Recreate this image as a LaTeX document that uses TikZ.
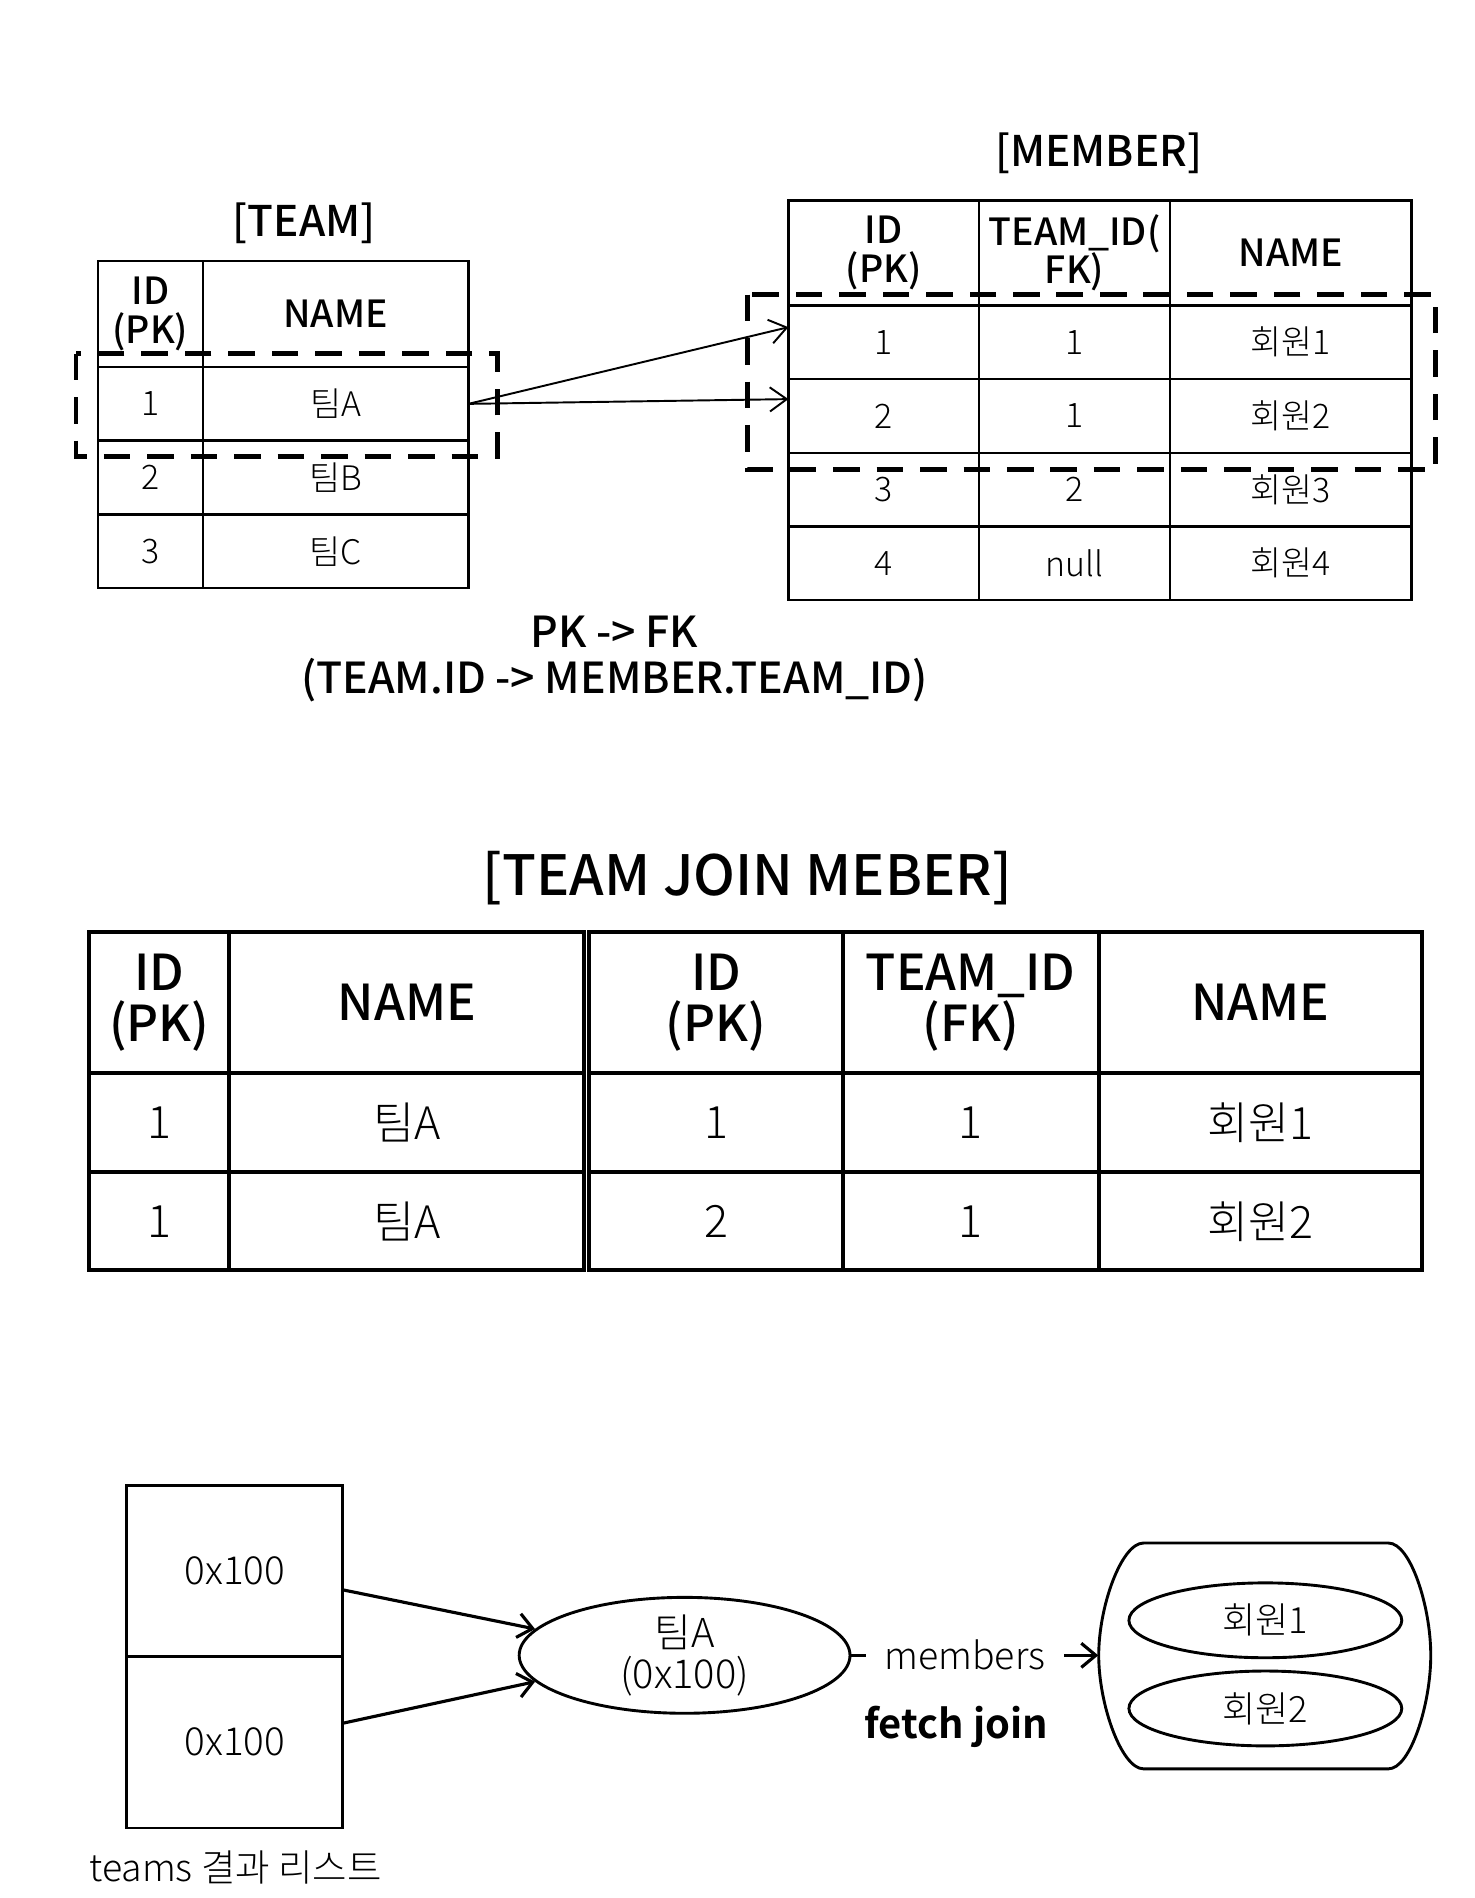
\documentclass[tikz,border=0pt]{standalone}
\usepackage{fontspec}
\setmainfont{Noto Sans CJK KR}[UprightFont=* Light, BoldFont=* Bold]
\newfontfamily\medfont{Noto Sans CJK KR}[UprightFont=* Medium]
\usetikzlibrary{positioning,shapes.geometric,arrows.meta}
\tikzstyle{cell} = [draw, line width=1pt, inner sep=0pt, outer sep=0pt, align=center, font=\fontsize{14}{16}\selectfont]
\tikzstyle{hcell} = [cell, font=\medfont\fontsize{15.5}{16}\selectfont]
\tikzstyle{jcell} = [draw, line width=1.6pt, inner sep=0pt, outer sep=0pt, align=center, font=\fontsize{18.5}{21}\selectfont]
\tikzstyle{jhcell} = [jcell, font=\medfont\fontsize{20.5}{21}\selectfont]
\tikzstyle{tabtitle} = [font=\medfont\fontsize{17.5}{20}\selectfont]
\tikzstyle{hilite} = [line width=2pt, dash pattern=on 11pt off 7pt]
\tikzstyle{fkarrow} = [-{Straight Barb[length=7pt,width=10pt]}, line width=0.8pt]
\tikzstyle{objarrow} = [-{Straight Barb[length=6pt,width=10pt]}, line width=1.3pt]
\tikzstyle{obj} = [draw, ellipse, line width=1.2pt, inner sep=0pt, align=center]

\begin{document}
\begin{tikzpicture}[x=0.5pt, y=-0.5pt]
\useasboundingbox (0,0) rectangle (1221,1572);

\node[tabtitle] (teamtitle) at (252,185) {[TEAM]};
\node[hcell, minimum width=43.5pt, minimum height=44pt] (t0i) at (124.5,260) {ID\\(PK)};
\node[hcell, minimum width=110pt, minimum height=44pt, right=0pt of t0i] (t0n) {NAME};
\node[cell, minimum width=43.5pt, minimum height=30.5pt, below=0pt of t0i] (t1i) {1};
\node[cell, minimum width=110pt, minimum height=30.5pt, right=0pt of t1i] (t1n) {팀A};
\node[cell, minimum width=43.5pt, minimum height=30.5pt, below=0pt of t1i] (t2i) {2};
\node[cell, minimum width=110pt, minimum height=30.5pt, right=0pt of t2i] (t2n) {팀B};
\node[cell, minimum width=43.5pt, minimum height=30.5pt, below=0pt of t2i] (t3i) {3};
\node[cell, minimum width=110pt, minimum height=30.5pt, right=0pt of t3i] (t3n) {팀C};

\node[tabtitle] (membertitle) at (910,127) {[MEMBER]};
\node[hcell, minimum width=79pt, minimum height=43.5pt] (m0i) at (732,209.5) {ID\\(PK)};
\node[hcell, minimum width=79pt, minimum height=43.5pt, right=0pt of m0i] (m0t) {TEAM\_ID(\\FK)};
\node[hcell, minimum width=100pt, minimum height=43.5pt, right=0pt of m0t] (m0n) {NAME};
\node[cell, minimum width=79pt, minimum height=30.5pt, below=0pt of m0i] (m1i) {1};
\node[cell, minimum width=79pt, minimum height=30.5pt, right=0pt of m1i] (m1t) {1};
\node[cell, minimum width=100pt, minimum height=30.5pt, right=0pt of m1t] (m1n) {회원1};
\node[cell, minimum width=79pt, minimum height=30.5pt, below=0pt of m1i] (m2i) {2};
\node[cell, minimum width=79pt, minimum height=30.5pt, right=0pt of m2i] (m2t) {1};
\node[cell, minimum width=100pt, minimum height=30.5pt, right=0pt of m2t] (m2n) {회원2};
\node[cell, minimum width=79pt, minimum height=30.5pt, below=0pt of m2i] (m3i) {3};
\node[cell, minimum width=79pt, minimum height=30.5pt, right=0pt of m3i] (m3t) {2};
\node[cell, minimum width=100pt, minimum height=30.5pt, right=0pt of m3t] (m3n) {회원3};
\node[cell, minimum width=79pt, minimum height=30.5pt, below=0pt of m3i] (m4i) {4};
\node[cell, minimum width=79pt, minimum height=30.5pt, right=0pt of m4i] (m4t) {null};
\node[cell, minimum width=100pt, minimum height=30.5pt, right=0pt of m4t] (m4n) {회원4};

\draw[hilite] (63,293) rectangle (412,378);
\draw[hilite] (619,244) rectangle (1189,389);

\draw[fkarrow] (t1n.east) -- (m1i.171);
\draw[fkarrow] (t1n.east) -- (m2i.170);

\node[align=center, font=\medfont\fontsize{17.7}{19}\selectfont] (pkfk) at (509,546) {PK -> FK\\(TEAM.ID -> MEMBER.TEAM\_ID)};

\node[font=\medfont\fontsize{23}{26}\selectfont] (jointitle) at (619,727) {[TEAM JOIN MEBER]};
\node[jhcell, minimum width=58pt, minimum height=58.5pt] (ja0i) at (132,830.5) {ID\\(PK)};
\node[jhcell, minimum width=147pt, minimum height=58.5pt, right=0pt of ja0i] (ja0n) {NAME};
\node[jhcell, minimum width=105pt, minimum height=58.5pt, right=2pt of ja0n] (jb0i) {ID\\(PK)};
\node[jhcell, minimum width=106pt, minimum height=58.5pt, right=0pt of jb0i] (jb0t) {TEAM\_ID\\(FK)};
\node[jhcell, minimum width=134pt, minimum height=58.5pt, right=0pt of jb0t] (jb0n) {NAME};
\node[jcell, minimum width=58pt, minimum height=41pt, below=0pt of ja0i] (ja1i) {1};
\node[jcell, minimum width=147pt, minimum height=41pt, right=0pt of ja1i] (ja1n) {팀A};
\node[jcell, minimum width=105pt, minimum height=41pt, right=2pt of ja1n] (jb1i) {1};
\node[jcell, minimum width=106pt, minimum height=41pt, right=0pt of jb1i] (jb1t) {1};
\node[jcell, minimum width=134pt, minimum height=41pt, right=0pt of jb1t] (jb1n) {회원1};
\node[jcell, minimum width=58pt, minimum height=40.5pt, below=0pt of ja1i] (ja2i) {1};
\node[jcell, minimum width=147pt, minimum height=40.5pt, right=0pt of ja2i] (ja2n) {팀A};
\node[jcell, minimum width=105pt, minimum height=40.5pt, right=2pt of ja2n] (jb2i) {2};
\node[jcell, minimum width=106pt, minimum height=40.5pt, right=0pt of jb2i] (jb2t) {1};
\node[jcell, minimum width=134pt, minimum height=40.5pt, right=0pt of jb2t] (jb2n) {회원2};

\node[draw, line width=1.2pt, outer sep=0pt, minimum width=89.5pt, minimum height=71pt, font=\fontsize{16}{16}\selectfont] (l1) at (194.5,1301) {0x100};
\node[draw, line width=1.2pt, outer sep=0pt, minimum width=89.5pt, minimum height=71pt, font=\fontsize{16}{16}\selectfont, below=0pt of l1] (l2) {0x100};
\node[font=\fontsize{15.5}{16}\selectfont] (listlabel) at (195,1547) {teams 결과 리스트};

\node[obj, minimum width=137pt, minimum height=48pt, font=\fontsize{16.5}{17}\selectfont] (teamA) at (567,1371) {팀A\\(0x100)};
\draw[objarrow] (l1.-10) -- (teamA.170);
\draw[objarrow] (l2.10) -- (teamA.190);

\node[minimum width=137.5pt, minimum height=93.5pt] (box) at (1047.5,1371) {};
\draw[line width=1.2pt] (947,1278) -- (1150,1278) .. controls (1168,1278) and (1185,1330) .. (1185,1371)
  .. controls (1185,1412) and (1168,1465) .. (1150,1465) -- (947,1465)
  .. controls (929,1465) and (910,1412) .. (910,1371) .. controls (910,1330) and (929,1278) .. (947,1278) -- cycle;
\node[obj, minimum width=113pt, minimum height=31pt, font=\fontsize{15}{15}\selectfont] (m1e) at (1048,1342) {회원1};
\node[obj, minimum width=113pt, minimum height=31pt, font=\fontsize{15}{15}\selectfont] (m2e) at (1048,1415) {회원2};

\draw[objarrow] (teamA.east) -- node[fill=white, inner sep=7.5pt, pos=0.46, font=\fontsize{15.5}{16}\selectfont] (memlabel) {members} (box.west);
\node[font=\fontsize{16.5}{17}\selectfont\bfseries] (fetchjoin) at (792,1430) {fetch join};
\end{tikzpicture}
\end{document}
